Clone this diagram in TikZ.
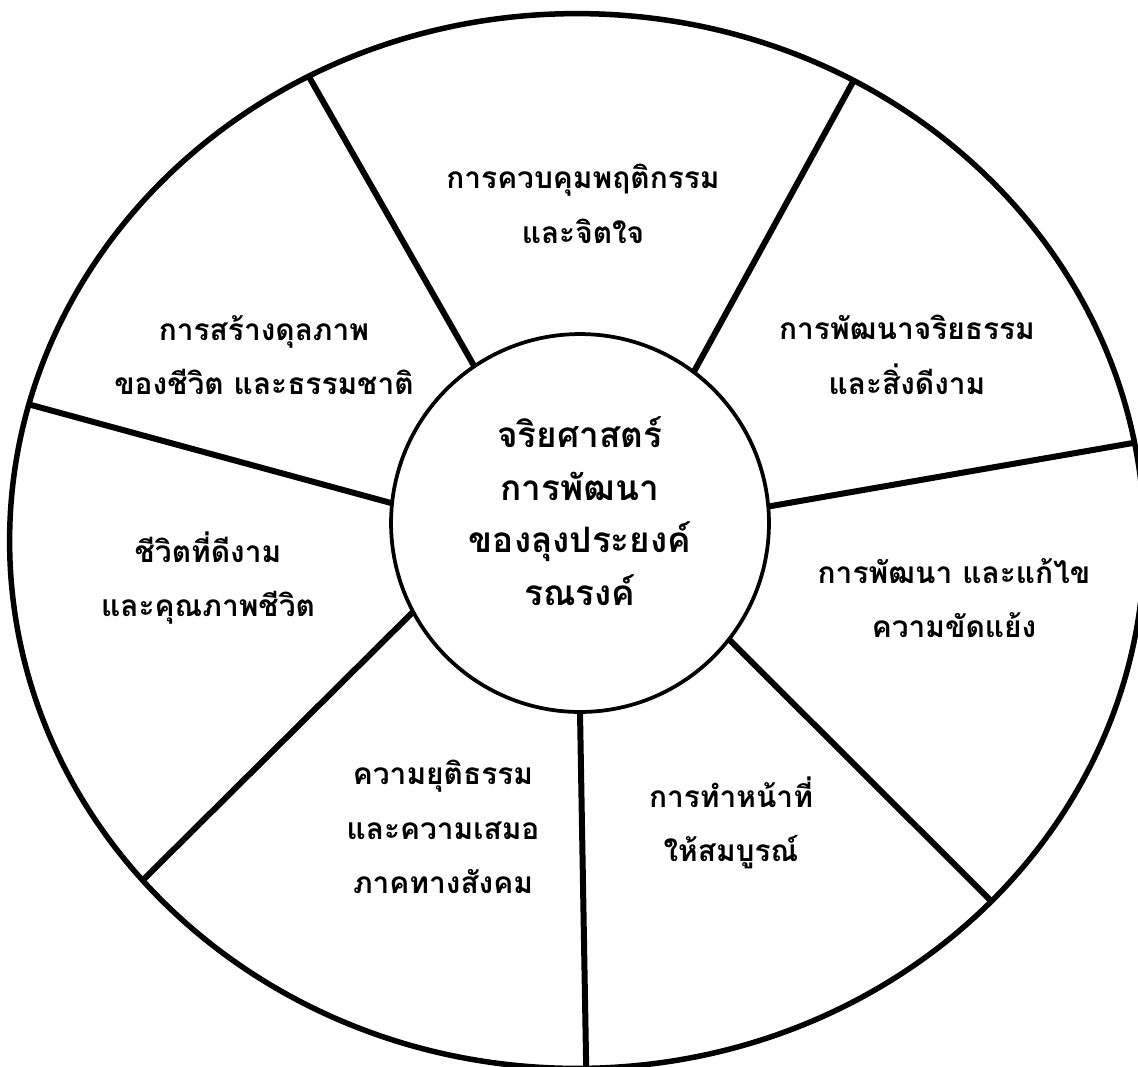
\documentclass[tikz,border=0pt]{standalone}
\usepackage{fontspec}
\usetikzlibrary{shapes.geometric}
\newfontfamily\thaifont[Script=Thai]{Loma}

\begin{document}
\begin{tikzpicture}[
    x=0.02cm, y=-0.02cm,
    rim/.style={draw, ellipse, line width=0.11cm, minimum width=22.7cm, minimum height=21.1cm, inner sep=0pt, outer sep=0pt},
    hub/.style={draw, circle, fill=white, line width=0.075cm, minimum size=7.56cm, inner sep=0pt, outer sep=0pt},
    spoke/.style={line width=0.12cm},
    lbl/.style={align=center, font=\thaifont\bfseries\fontsize{17pt}{31pt}\selectfont},
    hublbl/.style={align=center, font=\thaifont\bfseries\fontsize{20pt}{30pt}\selectfont},
]
\useasboundingbox (0,0) rectangle (1138,1066);
\clip (0,0) rectangle (1138,1066);

% wheel and hub
\node[rim] (wheel) at (577,541) {};
\node[hub] (core) at (580,523) {};

% spokes from hub to wheel
\draw[spoke] (core.124) -- (wheel.120);
\draw[spoke] (core.53) -- (wheel.59);
\draw[spoke] (core.5) -- (wheel.10);
\draw[spoke] (core.-38) -- (wheel.-41);
\draw[spoke] (core.-90) -- (wheel.-89);
\draw[spoke] (core.208) -- (wheel.218.4);
\draw[spoke] (core.174) -- (wheel.166.5);

\node[hublbl] (coretext) at (580,511) {จริยศาสตร์\\การพัฒนา\\ของลุงประยงค์\\รณรงค์};

% segment labels
\node[lbl] (control) at (583,204) {การควบคุมพฤติกรรม\\และจิตใจ};
\node[lbl] (ethics) at (907,355) {การพัฒนาจริยธรรม\\และสิ่งดีงาม};
\node[lbl] (conflict) at (954,598) {การพัฒนา และแก้ไข\\ความขัดแย้ง};
\node[lbl] (duty) at (731,823) {การทำหน้าที่\\ให้สมบูรณ์};
\node[lbl] (justice) at (443,827) {ความยุติธรรม\\และความเสมอ\\ภาคทางสังคม};
\node[lbl] (life) at (208,578) {ชีวิตที่ดีงาม\\และคุณภาพชีวิต};
\node[lbl] (balance) at (264,355) {การสร้างดุลภาพ\\ของชีวิต และธรรมชาติ};
\end{tikzpicture}
\end{document}
